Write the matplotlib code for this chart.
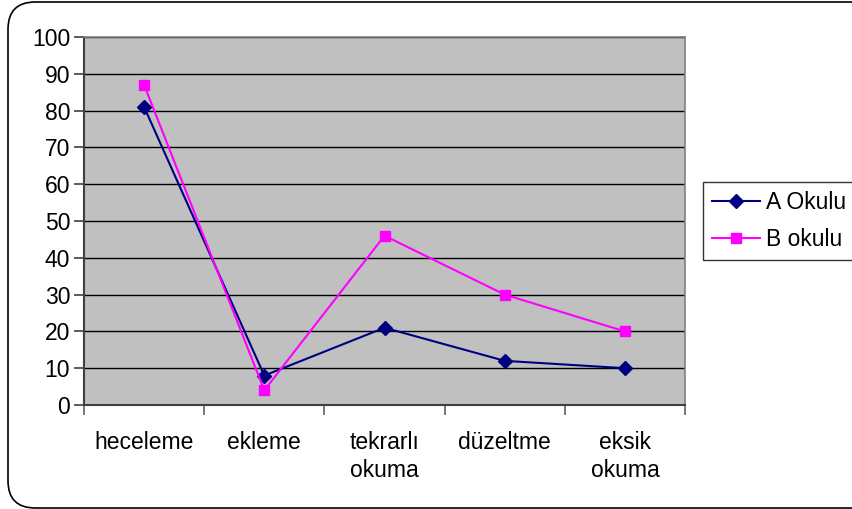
import matplotlib
matplotlib.use("Agg")
import matplotlib.pyplot as plt
from matplotlib.patches import FancyBboxPatch

categories = ["heceleme", "ekleme", "tekrarlı\nokuma", "düzeltme", "eksik\nokuma"]
a_values = [81, 8, 21, 12, 10]
b_values = [87, 4, 46, 30, 20]
y_ticks = [0, 10, 20, 30, 40, 50, 60, 70, 80, 90, 100]

plt.rcParams['font.family'] = ['Liberation Sans', 'DejaVu Sans']
FS = 16.5

fig = plt.figure(figsize=(8.52, 5.09), dpi=100)
ax = fig.add_axes([84/852, 1-405/509, (685-84)/852, (405-37)/509])
ax.set_facecolor('#C0C0C0')

x = list(range(len(categories)))
ax.plot(x, a_values, color='#000080', lw=1.5, marker='D', ms=7, label='A Okulu', zorder=3)
ax.plot(x, b_values, color='#FF00FF', lw=1.5, marker='s', ms=7.5, label='B okulu', zorder=3)

ax.set_xlim(-0.5, len(categories)-0.5)
ax.set_ylim(0, 100)
ax.set_yticks(y_ticks)
ax.set_yticklabels([str(v) for v in y_ticks], fontsize=FS)
ax.yaxis.grid(True, color='black', lw=1)
ax.set_axisbelow(True)

ax.set_xticks([i - 0.5 for i in range(len(categories)+1)])
ax.set_xticklabels([])
ax.set_xticks(x, minor=True)
ax.set_xticklabels(categories, minor=True, fontsize=FS, linespacing=1.25, va='top')
ax.tick_params(axis='x', which='minor', length=0, pad=19)
ax.tick_params(axis='x', which='major', length=7, width=1.2, color='#606060', direction='out')
ax.tick_params(axis='y', length=7, width=1.2, color='#404040', direction='out', pad=3)

for s in ['left', 'bottom']:
    ax.spines[s].set_color('#404040')
    ax.spines[s].set_linewidth(1.5)
for s in ['top', 'right']:
    ax.spines[s].set_color('#808080')
    ax.spines[s].set_linewidth(1.2)

leg = fig.legend(loc='upper left', bbox_to_anchor=(703/852, 1-182/509), fontsize=FS,
                 frameon=True, fancybox=False, edgecolor='black', handlelength=2.1,
                 borderpad=0.4, labelspacing=0.6, handletextpad=0.25, borderaxespad=0)
leg.get_frame().set_linewidth(1.0)

border = FancyBboxPatch((8/852, 1/509), 870/852, 506/509, transform=fig.transFigure,
                        boxstyle='round,pad=0,rounding_size=0.032', fill=False,
                        edgecolor='black', lw=1.2, mutation_aspect=852/509)
fig.patches.append(border)

fig.savefig('out.png', dpi=100)
